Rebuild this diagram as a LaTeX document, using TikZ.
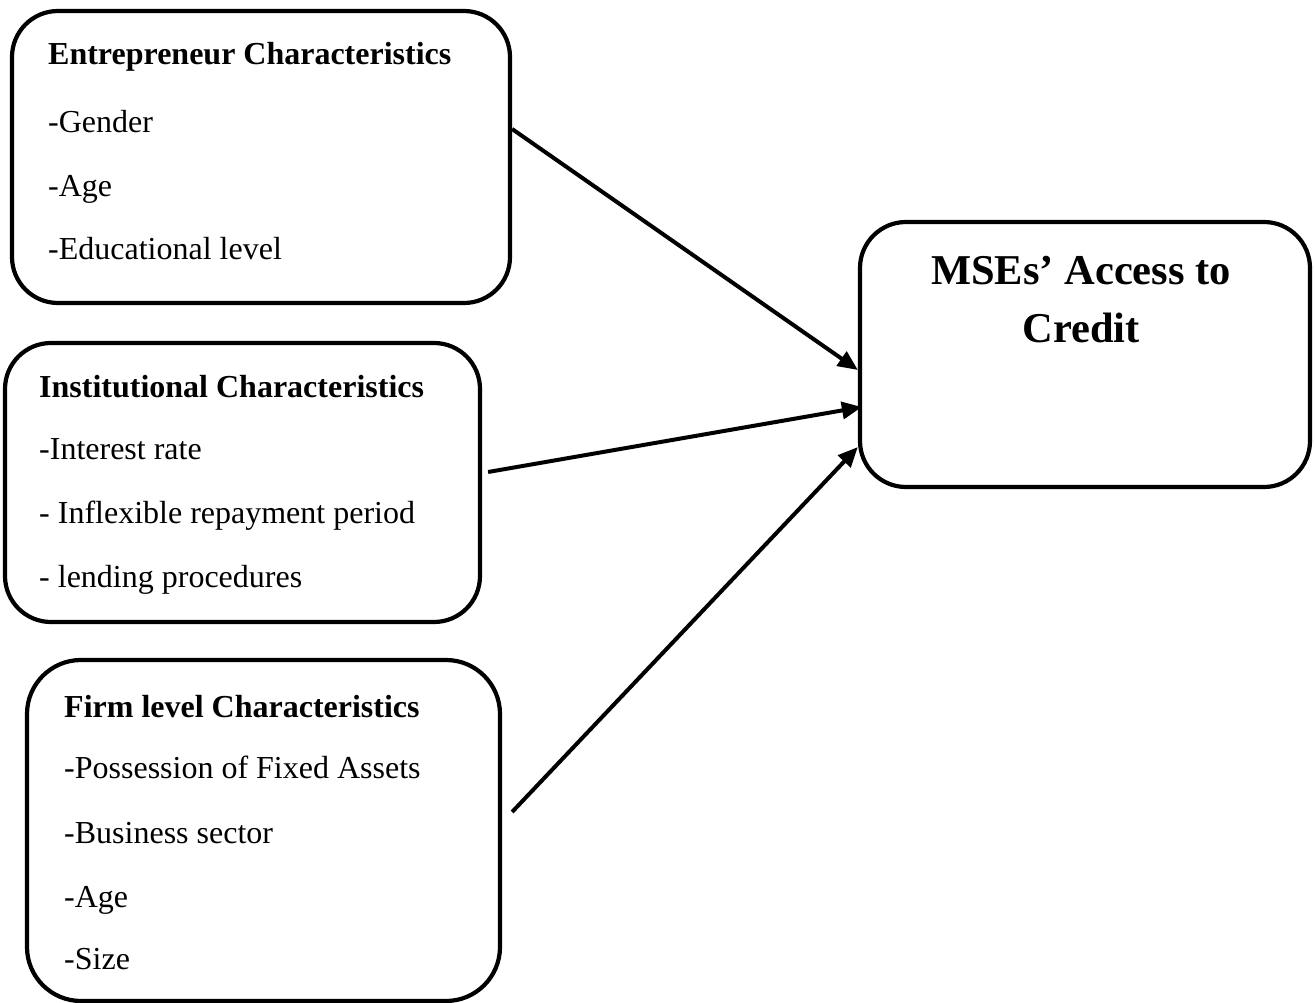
\documentclass[tikz,border=0pt]{standalone}
\usepackage{fontspec}
\setmainfont{Liberation Serif}
\usetikzlibrary{arrows.meta}
\begin{document}
\begin{tikzpicture}[x=1pt,y=-1pt,
  box/.style={draw,line width=4.2pt,rounded corners=46pt,inner sep=0pt},
  txt/.style={anchor=base west,inner sep=0pt,font=\fontsize{32}{36}\selectfont},
  ttl/.style={txt,font=\fontsize{32}{36}\selectfont\bfseries},
  big/.style={anchor=base,inner sep=0pt,font=\fontsize{42.5}{50}\selectfont\bfseries},
  conn/.style={line width=4pt,-{Triangle[length=20pt,width=17pt]}}]
\useasboundingbox (0,0) rectangle (1315,1003);
% boxes
\node[box,minimum width=498pt,minimum height=292pt] (ent) at (261,157) {};
\node[box,minimum width=475pt,minimum height=279pt] (ins) at (242.5,482.5) {};
\node[box,minimum width=473pt,minimum height=341pt,rounded corners=54pt] (firm) at (263.5,830.5) {};
\node[box,minimum width=450pt,minimum height=265pt] (mse) at (1085,354.5) {};
% entrepreneur text
\node[ttl] (e0) at (48,65) {Entrepreneur Characteristics};
\node[txt] (e1) at (48,133) {-Gender};
\node[txt] (e2) at (48,197) {-Age};
\node[txt] (e3) at (48,260) {-Educational level};
% institutional text
\node[ttl] (i0) at (39,397) {Institutional Characteristics};
\node[txt] (i1) at (39,459) {-Interest rate};
\node[txt] (i2) at (39,523) {- Inflexible repayment period};
\node[txt] (i3) at (39,587) {- lending procedures};
% firm text
\node[ttl] (f0) at (64,717) {Firm level Characteristics};
\node[txt] (f1) at (64,778) {-Possession of Fixed Assets};
\node[txt] (f2) at (64,843) {-Business sector};
\node[txt] (f3) at (64,907) {-Age};
\node[txt] (f4) at (64,969) {-Size};
% outcome text
\node[big] (m0) at (1081,284) {MSEs’ Access to};
\node[big] (m1) at (1081,342) {Credit};
% connectors
\draw[conn] ([yshift=28pt]ent.east) -- ([yshift=-15.5pt]mse.west);
\draw[conn] ([xshift=6pt,yshift=10.5pt]ins.east) -- ([xshift=4pt,yshift=-52.5pt]mse.west);
\draw[conn] ([xshift=10pt,yshift=18.5pt]firm.east) -- ([yshift=-92.5pt]mse.west);
\end{tikzpicture}
\end{document}
